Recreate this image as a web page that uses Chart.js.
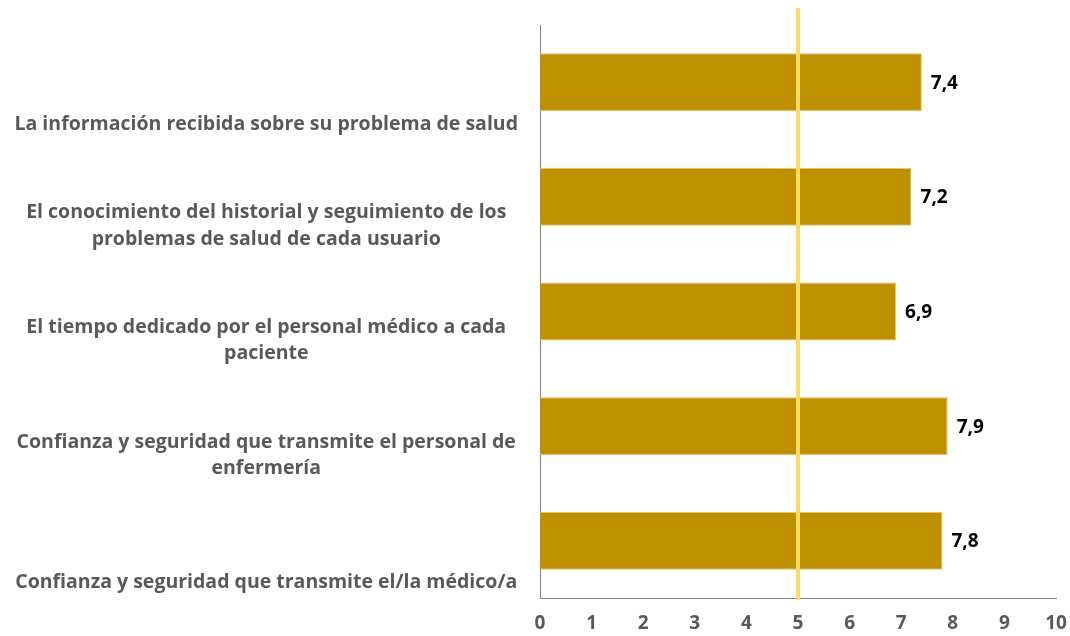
<!DOCTYPE html>
<html>
<head>
<meta charset="utf-8">
<script src="https://cdn.jsdelivr.net/npm/chart.js@4.4.0/dist/chart.umd.min.js"></script>
<style>
  html, body { margin: 0; padding: 0; background: #fff; }
  #wrap { width: 1070px; height: 636px; position: relative; }
</style>
</head>
<body>
<div id="wrap"><canvas id="chart"></canvas></div>
<script>
// Datos del gráfico
const categorias = [
  ["", "La información recibida sobre su problema de salud"],
  ["El conocimiento del historial y seguimiento de los", "problemas de salud de cada usuario"],
  ["El tiempo dedicado por el personal médico a cada", "paciente"],
  ["Confianza y seguridad que transmite el personal de", "enfermería"],
  ["", "Confianza y seguridad que transmite el/la médico/a"],
];
const valores = [7.4, 7.2, 6.9, 7.9, 7.8];
const ticksX = [0, 1, 2, 3, 4, 5, 6, 7, 8, 9, 10];
const referencia = 5;

// Etiquetas de valor a la derecha de cada barra
const etiquetasValor = {
  id: "etiquetasValor",
  afterDatasetsDraw(chart) {
    const ctx = chart.ctx;
    const meta = chart.getDatasetMeta(0);
    ctx.save();
    ctx.font = "bold 19px 'Open Sans'";
    ctx.fillStyle = "#000";
    ctx.textAlign = "left";
    ctx.textBaseline = "middle";
    meta.data.forEach((bar, i) => {
      ctx.fillText(valores[i].toFixed(1).replace(".", ","), bar.x + 9, bar.y + 1);
    });
    ctx.restore();
  },
};

// Línea vertical en el valor de referencia
const lineaRef = {
  id: "lineaRef",
  afterDatasetsDraw(chart) {
    const ctx = chart.ctx;
    const x = chart.scales.x.getPixelForValue(referencia);
    ctx.save();
    ctx.strokeStyle = "#FFD966";
    ctx.lineWidth = 4;
    ctx.beginPath();
    ctx.moveTo(x, 8);
    ctx.lineTo(x, chart.chartArea.bottom + 2);
    ctx.stroke();
    ctx.restore();
  },
};

const config = {
  type: "bar",
  data: {
    labels: categorias,
    datasets: [
      {
        data: valores,
        backgroundColor: "#BF9000",
        borderColor: "#E3C56A",
        borderWidth: 1,
        categoryPercentage: 1,
        barPercentage: 0.505,
      },
    ],
  },
  options: {
    indexAxis: "y",
    responsive: true,
    maintainAspectRatio: false,
    animation: false,
    layout: {
      padding: { top: 25, right: 14, bottom: 0, left: 0 },
    },
    plugins: {
      legend: { display: false },
      tooltip: { enabled: false },
    },
    scales: {
      x: {
        min: 0,
        max: 10,
        afterBuildTicks: (axis) => (axis.ticks = ticksX.map((v) => ({ value: v }))),
        afterFit: (axis) => {
          axis.height = 38;
          axis.paddingLeft = 0;
          axis.paddingRight = 0;
        },
        grid: { display: false, drawTicks: false },
        border: { display: true, color: "#7f7f7f", width: 1 },
        ticks: {
          color: "#595959",
          font: { family: "'Open Sans'", size: 19, weight: "bold" },
          padding: 14,
        },
      },
      y: {
        grid: { display: false, drawTicks: false },
        border: { display: true, color: "#7f7f7f", width: 1 },
        afterFit: (axis) => {
          axis.width = 540;
          axis.paddingTop = 0;
          axis.paddingBottom = 0;
        },
        ticks: {
          color: "#595959",
          font: { family: "'Open Sans'", size: 19.5, weight: "bold", lineHeight: 1.34 },
          crossAlign: "center",
          labelOffset: 29,
          padding: 22,
          autoSkip: false,
        },
      },
    },
  },
  plugins: [lineaRef, etiquetasValor],
};

new Chart(document.getElementById("chart"), config);
</script>
</body>
</html>
